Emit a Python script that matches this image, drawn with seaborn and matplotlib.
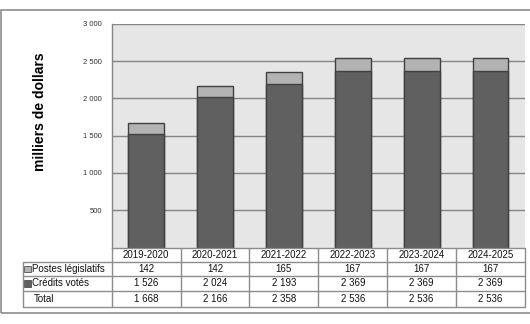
import matplotlib
matplotlib.use("Agg")
import matplotlib.pyplot as plt
import matplotlib.transforms as mtransforms
from matplotlib.patches import Rectangle
from matplotlib.lines import Line2D
import seaborn as sns
import pandas as pd

# Budget data (thousands of dollars)
years = ["2019-2020", "2020-2021", "2021-2022", "2022-2023", "2023-2024", "2024-2025"]
postes_legislatifs = [142, 142, 165, 167, 167, 167]
credits_votes = [1526, 2024, 2193, 2369, 2369, 2369]
totals = [1668, 2166, 2358, 2536, 2536, 2536]
row_labels = ["Postes législatifs", "Crédits votés", "Total"]
y_ticks = [500, 1000, 1500, 2000, 2500, 3000]

sns.set_theme(style="white")
plt.rcParams["font.family"] = ["Liberation Sans", "DejaVu Sans"]

W, H = 530, 324
fig = plt.figure(figsize=(W / 100, H / 100), dpi=100)


def fx(x):
    return x / W


def fy(y):
    return 1 - y / H


LIGHT = "#b3b3b3"
DARK = "#606060"
EDGE = "#404040"
GRID = "#858585"

ax_left, ax_right, ax_top, ax_bottom = 111.7, 525.0, 23.7, 247.5
ax = fig.add_axes([fx(ax_left), fy(ax_bottom), fx(ax_right - ax_left), (ax_bottom - ax_top) / H])
ax.set_facecolor("#e6e6e6")

df = pd.DataFrame({"year": years, "postes": postes_legislatifs,
                   "credits": credits_votes, "total": totals})

# Stacked bars: the full total in light grey, voted credits in dark grey over it
sns.barplot(data=df, x="year", y="total", color=LIGHT, saturation=1, width=0.52,
            edgecolor=EDGE, linewidth=1.0, ax=ax, zorder=3)
sns.barplot(data=df, x="year", y="credits", color=DARK, saturation=1, width=0.52,
            edgecolor=EDGE, linewidth=1.0, ax=ax, zorder=4)

ax.set_xlim(-0.5, len(years) - 0.5)
ax.set_ylim(0, 3000)
ax.set_yticks(y_ticks)
ax.set_yticklabels([f"{v:,}".replace(",", " ") for v in y_ticks], fontsize=5.5, color="#333333")
ax.set_xticks([])
ax.set_xlabel("")
ax.set_ylabel("")
ax.tick_params(axis="y", length=0, pad=7)
for v in y_ticks:
    ax.axhline(v, color=GRID, lw=1.0, zorder=1)
for side in ["top", "right", "bottom"]:
    ax.spines[side].set_visible(False)
ax.spines["left"].set_color(GRID)
ax.spines["left"].set_linewidth(1.0)

fig.text(fx(40.5), fy(112), "milliers de dollars", rotation=90, ha="center", va="center",
         fontsize=10, fontweight="bold", color="#000000")

# Data table under the plot
trans = mtransforms.blended_transform_factory(ax.transData, fig.transFigure)
row_edges = [247.5, 261.5, 276.0, 291.0, 306.5]
label_left = 22.5
tcolor = "#8c8c8c"

def hline(x0, x1, y):
    fig.add_artist(Line2D([fx(x0), fx(x1)], [fy(y), fy(y)], color=tcolor, lw=1.0))

def vline(x, y0, y1):
    fig.add_artist(Line2D([fx(x), fx(x)], [fy(y0), fy(y1)], color=tcolor, lw=1.0))

hline(ax_left, ax_right, row_edges[0])
for y in row_edges[1:]:
    hline(label_left, ax_right, y)
vline(label_left, row_edges[1], row_edges[-1])
vline(ax_left, row_edges[0], row_edges[-1])
for i in range(1, len(years) + 1):
    xb = ax.transData.transform((i - 0.5, 0))[0] / fig.dpi / fig.get_size_inches()[0] * W
    vline(xb, row_edges[0], row_edges[-1])


def fmt(v):
    return f"{v:,}".replace(",", " ")


rows = [postes_legislatifs, credits_votes, totals]
mid = [(row_edges[i] + row_edges[i + 1]) / 2 for i in range(len(row_edges) - 1)]
for i, yr in enumerate(years):
    fig.text(0, fy(mid[0]), yr, transform=trans, fontsize=7, ha="center", va="center",
             color="#111111").set_x(i)
    for r, vals in enumerate(rows):
        fig.text(0, fy(mid[r + 1]), fmt(vals[i]), transform=trans, fontsize=7,
                 ha="center", va="center", color="#111111").set_x(i)

swatches = [LIGHT, DARK, None]
for r, (lab, sw) in enumerate(zip(row_labels, swatches)):
    y = mid[r + 1]
    if sw is not None:
        fig.add_artist(Rectangle((fx(24.0), fy(y + 3.3)), 6.5 / W, 6.5 / H,
                                 facecolor=sw, edgecolor="#505050", lw=0.6,
                                 transform=fig.transFigure))
    fig.text(fx(31.5 if sw is not None else 34.0), fy(y), lab, fontsize=7,
             ha="left", va="center", color="#111111")

# Outer frame
frame = Rectangle((fx(1.0), fy(313.0)), (540 - 1.0) / W, (313.0 - 10.0) / H,
                  fill=False, edgecolor="#8c8c8c", lw=1.2, transform=fig.transFigure)
fig.add_artist(frame)

fig.savefig("out.png", dpi=100, facecolor="white")
